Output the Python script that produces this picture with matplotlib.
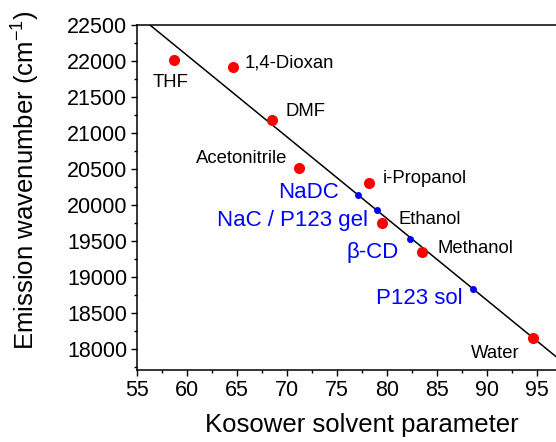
import matplotlib.pyplot as plt
from matplotlib.ticker import MultipleLocator

plt.rcParams['font.family'] = ['Liberation Sans', 'DejaVu Sans']
plt.rcParams['mathtext.fontset'] = 'custom'
plt.rcParams['mathtext.rm'] = 'Liberation Sans'
plt.rcParams['mathtext.it'] = 'Liberation Sans:italic'

# solvents (red) : Kosower Z value vs emission maximum
solvents = ['THF', '1,4-Dioxan', 'DMF', 'Acetonitrile', 'i-Propanol',
            'Ethanol', 'Methanol', 'Water']
solvent_z = [58.7, 64.6, 68.5, 71.2, 78.2, 79.5, 83.5, 94.6]
solvent_nu = [22010, 21920, 21180, 20520, 20310, 19745, 19350, 18150]

# self-assembled media (blue), placed on the calibration line
media = ['NaDC', 'NaC / P123 gel', 'β-CD', 'P123 sol']
media_z = [77.1, 79.0, 82.3, 88.6]
media_nu = [20140, 19930, 19530, 18830]

# linear calibration  nu = a + b*Z
fit_a = 28884
fit_b = -113.4
fit_z = [55, 100]

x_ticks = [55, 60, 65, 70, 75, 80, 85, 90, 95]
y_ticks = [18000, 18500, 19000, 19500, 20000, 20500, 21000, 21500, 22000, 22500]

# label anchors (x, baseline y)
solvent_lbl = [(58.4, 21640, 'center'), (65.8, 21917, 'left'), (69.8, 21231, 'left'),
               (60.9, 20586, 'left'), (79.6, 20309, 'left'), (81.1, 19740, 'left'),
               (85.0, 19338, 'left'), (88.4, 17882, 'left')]
media_lbl = [(75.2, 20101), (78.1, 19712), (81.2, 19268), (87.6, 18623)]

fig = plt.figure(figsize=(5.56, 4.42), dpi=100)
ax = fig.add_axes([0.2464, 0.1629, 1.0558 - 0.2464, 0.9434 - 0.1629])

ax.plot(fit_z, [fit_a + fit_b * z for z in fit_z], color='black', lw=1.1, zorder=2)
ax.plot(solvent_z, solvent_nu, 'o', color='#ff0000', ms=8, mew=0, zorder=3)
ax.plot(media_z, media_nu, 'o', color='#0000ff', ms=5, mew=0, zorder=3)

for name, (x, y, ha) in zip(solvents, solvent_lbl):
    ax.text(x, y, name, fontsize=13.3, ha=ha, va='baseline', color='black')
for name, (x, y) in zip(media, media_lbl):
    ax.text(x, y, name, fontsize=16, ha='right', va='baseline', color='#0000ff')

ax.set_xlim(55, 100)
ax.set_ylim(17710, 22500)
ax.set_xticks(x_ticks)
ax.xaxis.set_minor_locator(MultipleLocator(2.5))
ax.set_yticks(y_ticks)
ax.yaxis.set_minor_locator(MultipleLocator(250))

ax.tick_params(which='major', direction='out', length=4.5, width=1.0,
               labelsize=15.5, pad=2.5)
ax.tick_params(which='minor', direction='out', length=2.5, width=1.0)
ax.spines['right'].set_visible(False)
for s in ['left', 'bottom', 'top']:
    ax.spines[s].set_linewidth(1.1)

ax.set_xlabel('Kosower solvent parameter', fontsize=18.5)
ax.set_ylabel('Emission wavenumber (cm$^{-1}$)', fontsize=18.5)
ax.xaxis.set_label_coords(0.5, -0.125)
ax.yaxis.set_label_coords(-0.21, 0.55)

fig.savefig('out.png', dpi=100)
